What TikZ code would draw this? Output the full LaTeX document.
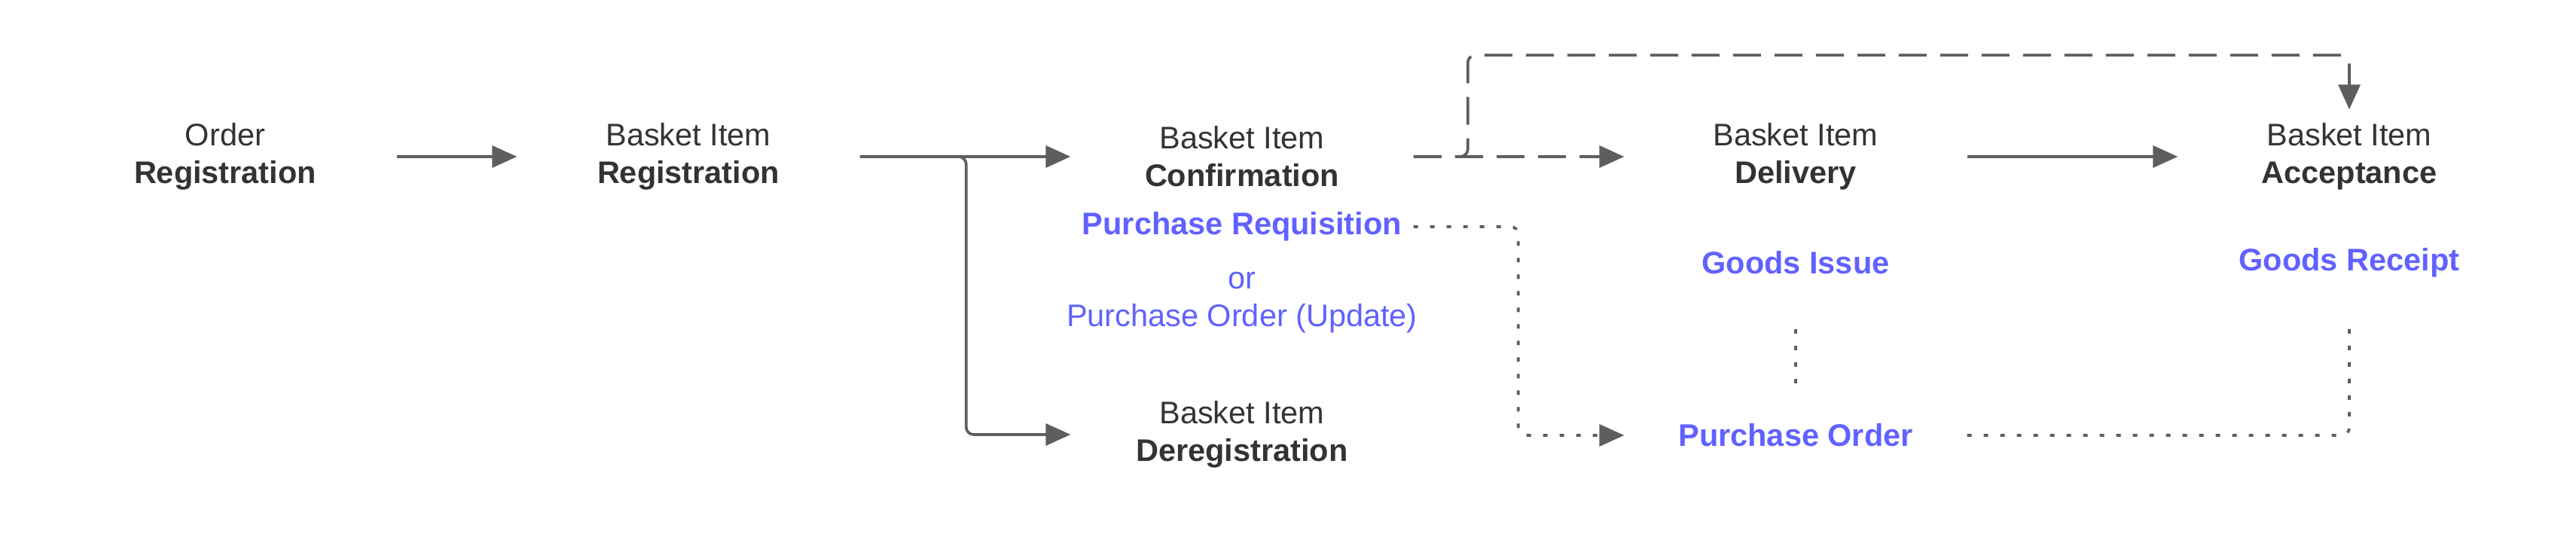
\documentclass[tikz,border=0pt]{standalone}
\usepackage{fontspec}
\setmainfont{Liberation Sans}
\definecolor{StepText}{HTML}{333333}
\definecolor{DocBlue}{HTML}{6161FF}
\definecolor{LinkGray}{HTML}{5E5E5E}
\usetikzlibrary{arrows.meta, positioning, calc}

\begin{document}
\begin{tikzpicture}[>={Triangle[length=3.3mm, width=2.9mm]},
  every node/.style={font=\fontsize{11.8}{14.2}\selectfont, inner sep=0pt, align=center},
  stage/.style={text=StepText, minimum width=4.54cm, minimum height=1.24cm},
  doc/.style={text=DocBlue, minimum width=4.54cm},
  link/.style={draw=LinkGray, line width=1.05pt, rounded corners=0.1cm},
  linkdash/.style={link, dash pattern=on 0.37cm off 0.18cm},
  linkdot/.style={link, dash pattern=on 0.06cm off 0.16cm}]
  \useasboundingbox (0,0) rectangle (34.2,7.13);

  % Stages of the basket item
  \node[stage] (ordreg) at (2.99,5.05) {Order\\\textbf{Registration}};
  \node[stage] (bireg) at (9.14,5.05) {Basket Item\\\textbf{Registration}};
  \node[stage] (biconf) at (16.49,5.05) {Basket Item\\\textbf{Confirmation}};
  \node[stage] (bideliv) at (23.84,5.05) {Basket Item\\\textbf{Delivery}};
  \node[stage] (biacc) at (31.19,5.05) {Basket Item\\\textbf{Acceptance}};
  \node[stage] (bidereg) at (16.49,1.36) {Basket Item\\\textbf{Deregistration}};

  % Follow-up documents
  \node[doc] (purchreq) at (16.49,4.12) {\textbf{Purchase Requisition}};
  \node[doc] (purchupd) at (16.49,3.11) {or\\Purchase Order (Update)};
  \node[doc, minimum height=1.74cm] (goodsissue) at (23.84,3.64) {\textbf{Goods Issue}};
  \node[doc, minimum height=1.74cm] (goodsreceipt) at (31.19,3.64) {\textbf{Goods Receipt}};
  \node[doc, minimum height=1.1cm] (purchorder) at (23.84,1.35) {\textbf{Purchase Order}};

  % Main flow
  \draw[link, ->] (ordreg) -- (bireg);
  \draw[link, ->] (bireg) -- (biconf);
  \draw[link, ->] (bireg.east) -- ++(1.41,0) |- (bidereg.west);
  \draw[linkdash, ->] (biconf) -- (bideliv);
  \draw[linkdash, ->] (biconf.east) -- ++(0.72,0) |- ([yshift=7.2mm]biacc.north) -- (biacc.north);
  \draw[link, ->] (bideliv) -- (biacc);

  % Document links
  \draw[linkdot, ->] (purchreq.east) -- ++(1.39,0) |- (purchorder.west);
  \draw[linkdot] (goodsissue.south) -- (purchorder.north);
  \draw[linkdot] (purchorder.east) -| (goodsreceipt.south);
\end{tikzpicture}
\end{document}
